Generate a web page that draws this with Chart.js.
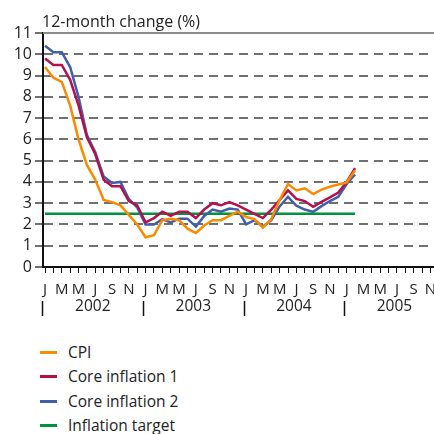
<!DOCTYPE html>
<html>
<head>
<meta charset="utf-8">
<script src="https://cdn.jsdelivr.net/npm/chart.js@4"></script>
<style>
  html, body { margin: 0; padding: 0; background: #fff; }
  body { width: 434px; height: 434px; position: relative; overflow: hidden; font-family: "Open Sans", sans-serif; }
  #wrap { position: absolute; left: 0; top: 0; width: 434px; height: 320px; }
  #legend { position: absolute; left: 0; top: 340px; list-style: none; margin: 0; padding: 0; }
  #legend li { position: relative; height: 24.4px; line-height: 24.4px; font-size: 15.5px; color: #222; padding-left: 68px; }
  #legend li span { position: absolute; left: 40px; top: 11px; width: 17px; height: 3px; }
</style>
</head>
<body>
<div id="wrap"><canvas id="myChart"></canvas></div>
<ul id="legend"></ul>
<script>
const monthLetters = ['J','F','M','A','M','J','J','A','S','O','N','D'];
const years = ['2002', '2003', '2004', '2005'];

// monthly values from Jan 2002 to Feb 2005
const cpi = [9.4, 8.9, 8.7, 7.6, 6.0, 4.8, 4.1, 3.15, 3.05, 2.9, 2.45, 2.0,
             1.4, 1.5, 2.2, 2.27, 2.2, 1.8, 1.6, 1.95, 2.2, 2.2, 2.4, 2.6,
             2.35, 2.25, 1.85, 2.25, 3.15, 3.9, 3.6, 3.7, 3.43, 3.64, 3.77, 3.88,
             3.97, 4.55];
const core1 = [9.8, 9.5, 9.5, 8.8, 7.6, 6.1, 5.3, 4.1, 3.8, 3.8, 3.1, 2.9,
               2.1, 2.3, 2.6, 2.4, 2.6, 2.6, 2.3, 2.7, 3.0, 2.9, 3.05, 2.9,
               2.7, 2.5, 2.3, 2.7, 3.15, 3.6, 3.2, 3.1, 2.83, 3.06, 3.27, 3.5,
               4.0, 4.65];
const core2 = [10.4, 10.1, 10.1, 9.4, 8.0, 6.2, 5.4, 4.25, 3.95, 4.0, 3.2, 2.8,
               2.0, 2.0, 2.25, 2.1, 2.27, 2.27, 1.9, 2.4, 2.7, 2.6, 2.75, 2.7,
               2.0, 2.2, 1.9, 2.2, 2.85, 3.3, 2.88, 2.7, 2.59, 2.86, 3.1, 3.3,
               3.9, 4.35];
const targetMonths = [0, 37];
const targetLevel = [2.5, 2.5];

const colors = {
  cpi: '#fa8a00',
  core1: '#b4104e',
  core2: '#3f5fab',
  target: '#00923f'
};

const toPoints = arr => arr.map((v, i) => ({x: i, y: v}));

const data = {
  datasets: [
    {label: 'CPI', data: toPoints(cpi), borderColor: colors.cpi},
    {label: 'Core inflation 1', data: toPoints(core1), borderColor: colors.core1},
    {label: 'Core inflation 2', data: toPoints(core2), borderColor: colors.core2},
    {label: 'Inflation target', data: targetMonths.map((m, i) => ({x: m, y: targetLevel[i]})), borderColor: colors.target}
  ]
};

const decor = {
  id: 'decor',
  beforeDatasetsDraw(chart) {
    const {ctx, chartArea, scales} = chart;
    const yTop = scales.y.getPixelForValue(11);
    ctx.save();
    ctx.lineWidth = 2;
    ctx.strokeStyle = '#8c8c8c';
    ctx.beginPath();
    ctx.moveTo(chartArea.left, yTop);
    ctx.lineTo(chartArea.right, yTop);
    ctx.stroke();
    ctx.restore();
  },
  afterDraw(chart) {
    const {ctx, chartArea, scales} = chart;
    const x = scales.x;
    ctx.save();
    // title
    ctx.font = '16px "Open Sans"';
    ctx.fillStyle = '#222';
    ctx.textAlign = 'left';
    ctx.textBaseline = 'alphabetic';
    ctx.fillText('12-month change (%)', chartArea.left - 1, 27);

    // year row
    ctx.font = '15.5px "Open Sans"';
    ctx.strokeStyle = '#111';
    ctx.lineWidth = 1.5;
    ctx.textAlign = 'center';
    ctx.textBaseline = 'middle';
    years.forEach((yr, k) => {
      const sx = Math.round(x.getPixelForValue(12 * k - 0.3)) + 0.5;
      ctx.beginPath();
      ctx.moveTo(sx, 301);
      ctx.lineTo(sx, 316);
      ctx.stroke();
      ctx.fillText(yr, x.getPixelForValue(12 * k + 5.7), 307);
    });
    ctx.restore();
  }
};

const config = {
  type: 'line',
  data,
  options: {
    responsive: true,
    maintainAspectRatio: false,
    animation: false,
    layout: {padding: {left: 0, right: 0, top: 33, bottom: 0}},
    elements: {
      line: {borderWidth: 2.5, tension: 0, fill: false},
      point: {radius: 0}
    },
    scales: {
      x: {
        type: 'linear',
        min: -0.239,
        max: 46.42,
        afterFit(scale) {
          scale.height = 53;
          scale.paddingLeft = 0;
          scale.paddingRight = 0;
        },
        grid: {
          drawOnChartArea: false,
          drawTicks: true,
          tickLength: 6,
          tickColor: '#111',
          tickWidth: 1
        },
        border: {display: true, color: '#111', width: 2},
        ticks: {
          stepSize: 1,
          includeBounds: false,
          autoSkip: false,
          maxRotation: 0,
          padding: 8,
          color: '#222',
          font: {family: '"Open Sans"', size: 15},
          callback: v => (Number.isInteger(v) && v % 2 === 0) ? monthLetters[v % 12] : ''
        }
      },
      y: {
        min: 0,
        max: 11,
        afterFit(scale) {
          scale.width = 43;
          scale.paddingTop = 0;
          scale.paddingBottom = 0;
        },
        grid: {
          color: ctx => ctx.tick && ctx.tick.value === 11 ? '#333' : '#707070',
          lineWidth: 2,
          tickLength: 8,
          tickColor: '#707070'
        },
        border: {display: true, color: '#111', width: 2, dash: [9, 6]},
        ticks: {
          stepSize: 1,
          autoSkip: false,
          padding: 3,
          color: '#222',
          font: {family: '"Open Sans"', size: 16}
        }
      }
    },
    plugins: {
      legend: {display: false},
      title: {display: false},
      tooltip: {enabled: false}
    }
  },
  plugins: [decor]
};

const myChart = new Chart(document.getElementById('myChart'), config);

// legend list below the chart
const legendEl = document.getElementById('legend');
data.datasets.forEach(ds => {
  const li = document.createElement('li');
  const sw = document.createElement('span');
  sw.style.background = ds.borderColor;
  li.appendChild(sw);
  li.appendChild(document.createTextNode(ds.label));
  legendEl.appendChild(li);
});
</script>
</body>
</html>
